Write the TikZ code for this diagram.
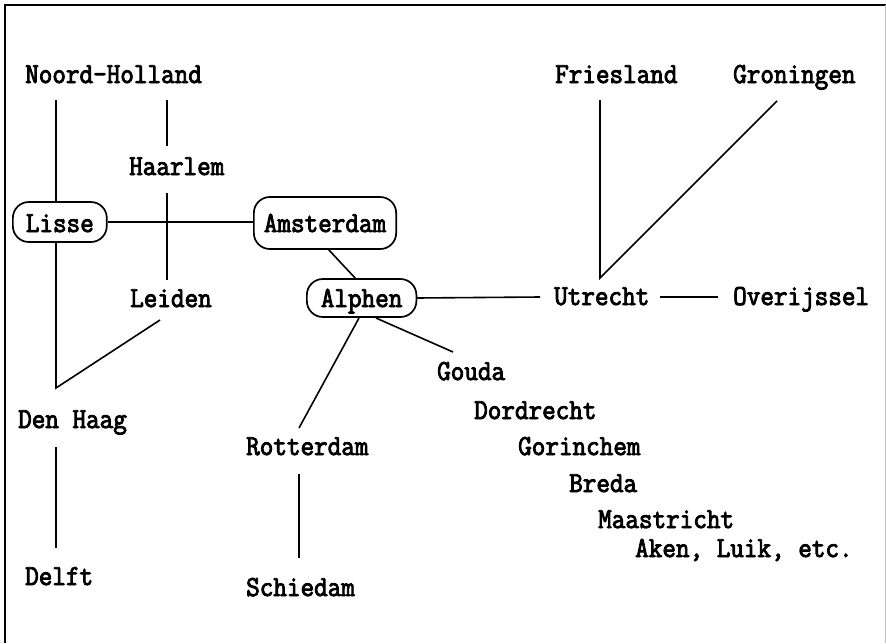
\documentclass[tikz,border=0pt]{standalone}
\usepackage{fontspec}
\newfontfamily\mapfont[FakeStretch=0.91,FakeBold=3]{Latin Modern Mono}
\begin{document}
\begin{tikzpicture}[x=1pt,y=-1pt,
  lbl/.style={anchor=base west,inner sep=0pt,font=\mapfont\fontsize{29}{30}\selectfont},
  town/.style={lbl,draw,line width=1.7pt,rounded corners=16pt,inner xsep=12pt,anchor=base west},
  link/.style={line width=1.6pt},
  frame/.style={line width=2pt}]
\useasboundingbox (0,0) rectangle (886,643);
\draw[frame] (5,643) -- (5,5) -- (886,5);
\draw[line width=0.6pt,black!25] (885,5) -- (885,643);
% plain labels
\node[lbl] (nh) at (25,83) {Noord-Holland};
\node[lbl] (haarlem) at (129,175) {Haarlem};
\node[lbl] (leiden) at (130,307) {Leiden};
\node[lbl] (denhaag) at (18,428) {Den Haag};
\node[lbl] (delft) at (25,585) {Delft};
\node[lbl] (rotterdam) at (246,455) {Rotterdam};
\node[lbl] (schiedam) at (246,596) {Schiedam};
\node[lbl] (friesland) at (555,83) {Friesland};
\node[lbl] (groningen) at (733,83) {Groningen};
\node[lbl] (utrecht) at (554,305) {Utrecht};
\node[lbl] (overijssel) at (733,305) {Overijssel};
\node[lbl] (gouda) at (437,380) {Gouda};
\node[lbl] (dordrecht) at (474,419) {Dordrecht};
\node[lbl] (gorinchem) at (518,455) {Gorinchem};
\node[lbl] (breda) at (569,492) {Breda};
\node[lbl] (maastricht) at (598,528) {Maastricht};
\node[lbl] (aken) at (635,557) {Aken, Luik, etc.};
% boxed labels
\node[town,text height=30pt,text depth=10pt,inner xsep=13pt] (lisse) at (12,232) {Lisse};
\node[town,text height=35pt,text depth=17pt,inner xsep=10pt] (amsterdam) at (253,232) {Amsterdam};
\node[town,text height=28pt,text depth=10pt,inner xsep=14pt] (alphen) at (306,307) {Alphen};
% free ends of connectors
\coordinate (nh1) at (56,100);
\coordinate (nh2) at (167,100);
\coordinate (ha1) at (167,146);
\coordinate (ha2) at (167,193);
\coordinate (le1) at (167,280);
\coordinate (le2) at (160,320);
\coordinate (dh1) at (56,388);
\coordinate (dh2) at (56,447);
\coordinate (de1) at (56,548);
\coordinate (ut1) at (540,297);
\coordinate (ut2) at (660,297);
\coordinate (ov1) at (718,297);
\coordinate (ut3) at (600,278);
\coordinate (fr1) at (600,100);
\coordinate (gr1) at (777,101);
\coordinate (ro1) at (299,428);
\coordinate (ro2) at (299,474);
\coordinate (sc1) at (299,558);
\coordinate (go1) at (453,352);
% connectors
\draw[link] (nh1) -- (lisse.north -| nh1);
\draw[link] (lisse.south -| dh1) -- (dh1) -- (le2);
\draw[link] (nh2) -- (ha1);
\draw[link] (ha2) -- (le1);
\draw[link] (lisse.east) -- (amsterdam.west |- lisse.east);
\draw[link] (328,249) -- (356,279);
\draw[link] (alphen.east) -- (ut1);
\draw[link] (ut2) -- (ov1);
\draw[link] (fr1) -- (ut3) -- (gr1);
\draw[link] (359,318) -- (ro1);
\draw[link] (376,318) -- (go1);
\draw[link] (dh2) -- (de1);
\draw[link] (ro2) -- (sc1);
\end{tikzpicture}
\end{document}
